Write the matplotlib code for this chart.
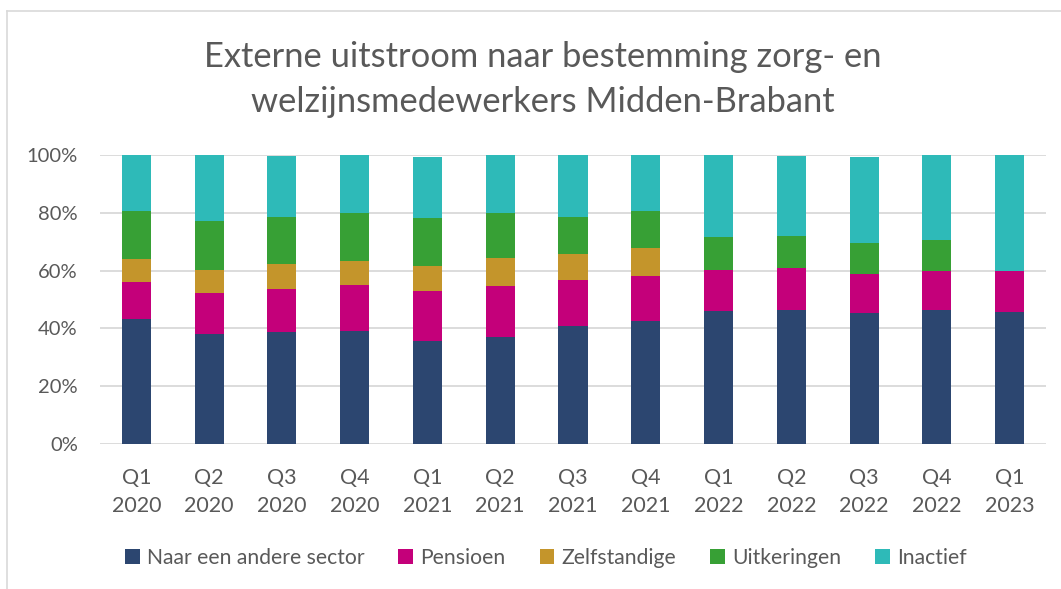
import numpy as np
import matplotlib.pyplot as plt
from matplotlib.lines import Line2D
from matplotlib.patches import Patch

# kwartalen
quarters = ["Q1\n2020", "Q2\n2020", "Q3\n2020", "Q4\n2020",
            "Q1\n2021", "Q2\n2021", "Q3\n2021", "Q4\n2021",
            "Q1\n2022", "Q2\n2022", "Q3\n2022", "Q4\n2022",
            "Q1\n2023"]

# aandelen per bestemming (in %)
andere_sector = [43.2, 37.9, 38.6, 39.1, 35.6, 36.9, 40.7, 42.6, 46.1, 46.3, 45.3, 46.2, 45.6]
pensioen      = [12.7, 14.2, 15.0, 16.0, 17.2, 17.6, 15.9, 15.7, 14.0, 14.6, 13.5, 13.6, 14.4]
zelfstandige  = [8.2, 8.2, 8.7, 8.3, 8.8, 9.7, 9.1, 9.6, 0, 0, 0, 0, 0]
uitkeringen   = [16.4, 16.9, 16.4, 16.6, 16.5, 15.8, 13.0, 12.6, 11.4, 10.9, 10.7, 10.9, 0]
inactief      = [19.5, 22.8, 21.1, 20.0, 21.3, 20.0, 21.3, 19.5, 28.5, 27.7, 29.8, 29.3, 40.0]

series = [("Naar een andere sector", andere_sector, "#2c4670"),
          ("Pensioen", pensioen, "#c4007a"),
          ("Zelfstandige", zelfstandige, "#c4952b"),
          ("Uitkeringen", uitkeringen, "#37a035"),
          ("Inactief", inactief, "#2ebab8")]

plt.rcParams['font.family'] = ['Lato', 'DejaVu Sans']
txt = "#595959"
W, H = 1061, 589

fig = plt.figure(figsize=(W / 100, H / 100), dpi=100)
ax = fig.add_axes([100 / W, (H - 444) / H, 946 / W, 289 / H])

x = np.arange(len(quarters))
bottom = np.zeros(len(quarters))
for naam, vals, kleur in series:
    vals = np.array(vals) / 100
    ax.bar(x, vals, width=0.4, bottom=bottom, color=kleur, label=naam, zorder=2)
    bottom += vals

ax.set_xlim(-0.5, len(quarters) - 0.5)
ax.set_ylim(0, 1)
ax.set_yticks(np.arange(0, 1.01, 0.2))
ax.set_yticklabels([f"{int(round(v * 100))}%" for v in np.arange(0, 1.01, 0.2)])
ax.set_xticks(x)
ax.set_xticklabels(quarters, linespacing=1.55)
ax.tick_params(axis='both', length=0, colors=txt, labelsize=14.5)
ax.tick_params(axis='x', labelsize=15.5, pad=17)
ax.tick_params(axis='y', pad=16)
ax.grid(axis='y', color="#d9d9d9", lw=1.3, zorder=0)
for s in ax.spines.values():
    s.set_visible(False)

# titel
fig.text(543 / W, 1 - 67 / H, "Externe uitstroom naar bestemming zorg- en",
         ha='center', va='baseline', fontsize=24.8, color=txt)
fig.text(543 / W, 1 - 112 / H, "welzijnsmedewerkers Midden-Brabant",
         ha='center', va='baseline', fontsize=24.8, color=txt)

handles = [Patch(facecolor=k, label=n) for n, _, k in series]
fig.legend(handles=handles, loc='center', bbox_to_anchor=(546 / W, 1 - 558 / H),
           ncol=5, frameon=False, fontsize=15.2, handlelength=0.7, handleheight=0.7,
           handletextpad=0.35, columnspacing=1.6, labelcolor=txt)

# kader van de grafiek
fig.add_artist(Line2D([7 / W, 7 / W], [0, 1 - 11 / H], color="#d9d9d9", lw=1.2))
fig.add_artist(Line2D([7 / W, 1], [1 - 11 / H, 1 - 11 / H], color="#d9d9d9", lw=1.2))

fig.savefig("out.png", dpi=100)
